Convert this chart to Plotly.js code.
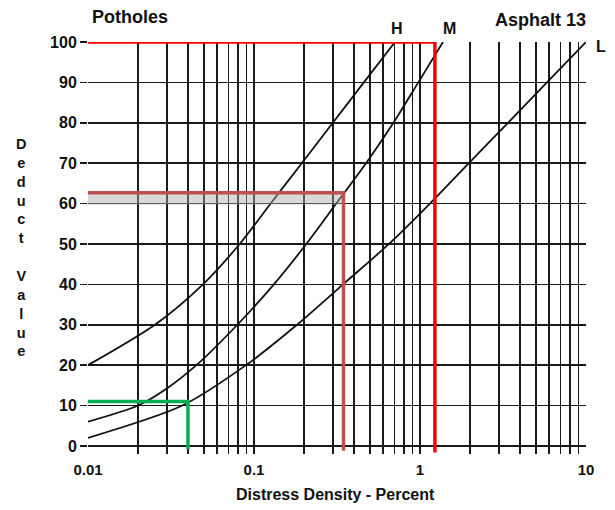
<!DOCTYPE html>
<html>
<head>
<meta charset="utf-8">
<script src="https://cdn.plot.ly/plotly-3.0.1.min.js"></script>
<style>html,body{margin:0;padding:0;background:#fff;}#chart{width:615px;height:510px;}</style>
</head>
<body>
<div id="chart"></div>
<script>
// Curve data (Distress Density %, Deduct Value)
const hX = [0.01, 0.0253, 0.0493, 0.082, 0.126, 0.194, 0.2985, 0.459, 0.707];
const hY = [20, 30, 40, 50, 60, 70, 80, 90, 100];
const mX = [0.01, 0.02, 0.03, 0.045, 0.0794, 0.1318, 0.2065, 0.3126, 0.473, 0.692, 0.977, 1.376];
const mY = [6, 10, 14.3, 20, 30, 40, 50, 60, 70, 80, 90, 100];
const lX = [0.01, 0.037, 0.0895, 0.1816, 0.344, 0.65, 1.148, 1.97, 3.39, 5.82, 10];
const lY = [2, 10, 20, 30, 40, 50, 60, 70, 80, 90, 100];

// Highlight guide lines (drawn on top of the chart)
const redX = [0.01, 1.23, 1.23];
const redY = [100, 100, -1.6];
const brownX = [0.01, 0.346, 0.346];
const brownY = [62.7, 62.7, -1.2];
const greenX = [0.01, 0.04, 0.04];
const greenY = [11, 11, -0.8];
const bandX = [0.01, 0.346];
const bandY = [59.8, 62.7];

// Axis ticks
const xTickVals = [];
const xTickText = [];
const decades = [0.01, 0.1, 1];
const decadeLabels = ['0.01', '0.1', '1'];
decades.forEach((d, i) => {
  for (let k = 1; k <= 9; k++) {
    xTickVals.push(d * k);
    xTickText.push(k === 1 ? decadeLabels[i] : '');
  }
});
xTickVals.push(10); xTickText.push('10');
const yTickVals = [0, 10, 20, 30, 40, 50, 60, 70, 80, 90, 100];

const FONT = 'Liberation Sans, Arial, Helvetica, sans-serif';
const curveStyle = {color: '#111', width: 1.8, shape: 'spline', smoothing: 0.8};

const traces = [
  {x: hX, y: hY, mode: 'lines', line: curveStyle, cliponaxis: false, hoverinfo: 'skip'},
  {x: mX, y: mY, mode: 'lines', line: curveStyle, cliponaxis: false, hoverinfo: 'skip'},
  {x: lX, y: lY, mode: 'lines', line: curveStyle, cliponaxis: false, hoverinfo: 'skip'},
  {x: [bandX[0], bandX[1], bandX[1], bandX[0], bandX[0]], y: [bandY[0], bandY[0], bandY[1], bandY[1], bandY[0]],
   mode: 'lines', fill: 'toself', fillcolor: 'rgba(170,170,170,0.45)', line: {width: 0}, hoverinfo: 'skip'},
  {x: redX, y: redY, mode: 'lines', line: {color: '#ff0000', width: 3.5}, cliponaxis: false, hoverinfo: 'skip'},
  {x: brownX, y: brownY, mode: 'lines', line: {color: '#c0504d', width: 3.5}, cliponaxis: false, hoverinfo: 'skip'},
  {x: greenX, y: greenY, mode: 'lines', line: {color: '#00b050', width: 3.5}, cliponaxis: false, hoverinfo: 'skip'}
];

const gridColor = '#1a1a1a';
const layout = {
  width: 615, height: 510,
  margin: {l: 88, r: 29, t: 42, b: 56},
  paper_bgcolor: '#ffffff', plot_bgcolor: '#ffffff',
  showlegend: false,
  font: {family: FONT, color: '#111'},
  xaxis: {
    type: 'log', range: [-2, 1],
    tickmode: 'array', tickvals: xTickVals, ticktext: xTickText,
    showgrid: true, gridcolor: gridColor, gridwidth: 1.5,
    ticks: 'outside', ticklen: 2, tickcolor: 'rgba(0,0,0,0)',
    showline: false, zeroline: false,
    tickfont: {family: FONT, size: 15, weight: 'bold', color: '#111'}
  },
  yaxis: {
    range: [-2, 100],
    tickmode: 'array', tickvals: yTickVals,
    showgrid: true, gridcolor: gridColor, gridwidth: 1.5,
    zeroline: true, zerolinecolor: gridColor, zerolinewidth: 1.5,
    ticks: 'outside', ticklen: 7, tickwidth: 1.5, tickcolor: gridColor,
    showline: false,
    tickfont: {family: FONT, size: 16, weight: 'bold', color: '#111'}
  },
  annotations: [
    {text: 'Potholes', xref: 'paper', yref: 'paper', x: 0.004, y: 1.0607, xanchor: 'left', yanchor: 'middle', showarrow: false,
     font: {family: FONT, size: 18, weight: 'bold', color: '#111'}},
    {text: 'Asphalt 13', xref: 'paper', yref: 'paper', x: 1.004, y: 1.053, xanchor: 'right', yanchor: 'middle', showarrow: false,
     font: {family: FONT, size: 18, weight: 'bold', color: '#111'}},
    {text: 'H', xref: 'paper', yref: 'paper', x: 0.6205, y: 1.0316, xanchor: 'center', yanchor: 'middle', showarrow: false,
     font: {family: FONT, size: 16, weight: 'bold', color: '#111'}},
    {text: 'M', xref: 'paper', yref: 'paper', x: 0.725, y: 1.0316, xanchor: 'center', yanchor: 'middle', showarrow: false,
     font: {family: FONT, size: 16, weight: 'bold', color: '#111'}},
    {text: 'L', xref: 'paper', yref: 'paper', x: 1.030, y: 0.988, xanchor: 'center', yanchor: 'middle', showarrow: false,
     font: {family: FONT, size: 16, weight: 'bold', color: '#111'}},
    {text: 'D<br>e<br>d<br>u<br>c<br>t<br> <br>V<br>a<br>l<br>u<br>e', xref: 'paper', yref: 'paper', x: -0.1345, y: 0.502,
     xanchor: 'center', yanchor: 'middle', showarrow: false, align: 'center',
     font: {family: FONT, size: 14.5, weight: 'bold', color: '#111'}},
    {text: 'Distress Density - Percent', xref: 'paper', yref: 'paper', x: 0.496, y: -0.0995, xanchor: 'center', yanchor: 'middle', showarrow: false,
     font: {family: FONT, size: 16, weight: 'bold', color: '#111'}}
  ]
};

Plotly.newPlot('chart', traces, layout, {staticPlot: true, displayModeBar: false});
</script>
</body>
</html>
